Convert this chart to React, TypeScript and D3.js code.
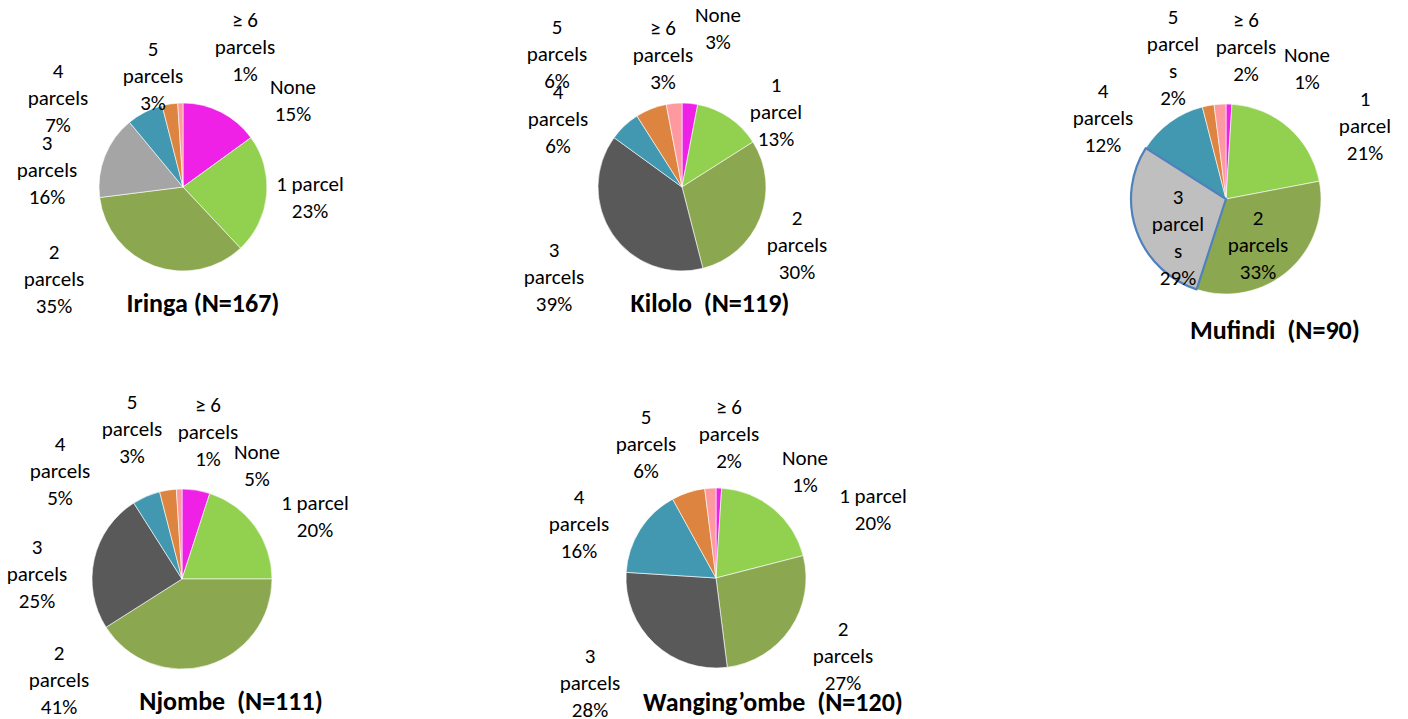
import React, { useEffect, useRef } from "react";
import * as d3 from "d3";

const categories = ["None", "1 parcel", "2 parcels", "3 parcels", "4 parcels", "5 parcels", "≥ 6 parcels"];
const iringa = [15, 23, 35, 16, 7, 3, 1];
const kilolo = [3, 13, 30, 39, 6, 6, 3];
const mufindi = [1, 21, 33, 29, 12, 2, 2];
const njombe = [5, 20, 41, 25, 5, 3, 1];
const wangingombe = [1, 20, 27, 28, 16, 6, 2];
const titles = ["Iringa (N=167)", "Kilolo  (N=119)", "Mufindi  (N=90)", "Njombe  (N=111)", "Wanging’ombe  (N=120)"];

const baseColors = ["#F021E6", "#92D050", "#8BA750", "#595959", "#4298B0", "#DD8440", "#FF99A0"];

type LabelPos = { x: number; y: number; lines: string[] };
type ChartCfg = {
  values: number[];
  title: string;
  cx: number; cy: number; r: number;
  titleX: number; titleY: number;
  threeColor: string;
  highlight?: boolean;
  labels: LabelPos[]; // in category order
};

const fmt = (v: number) => `${v}%`;

function buildLines(cat: string, v: number, style: string): string[] {
  if (style === "one") return [cat, fmt(v)];
  if (style === "split") {
    const parts = cat.split(" ");
    if (cat.startsWith("≥")) return ["≥ 6", "parcels", fmt(v)];
    return [parts[0], parts[1], fmt(v)];
  }
  if (style === "wrap") {
    const parts = cat.split(" ");
    return [parts[0], "parcel", "s", fmt(v)];
  }
  return [cat, fmt(v)];
}

const charts: ChartCfg[] = [
  {
    values: iringa, title: titles[0], cx: 183, cy: 187, r: 84, titleX: 203, titleY: 303,
    threeColor: "#A5A5A5",
    labels: [
      { x: 293, y: 87, lines: buildLines(categories[0], iringa[0], "one") },
      { x: 310, y: 184, lines: buildLines(categories[1], iringa[1], "one") },
      { x: 54, y: 252, lines: buildLines(categories[2], iringa[2], "split") },
      { x: 47, y: 143, lines: buildLines(categories[3], iringa[3], "split") },
      { x: 58, y: 71, lines: buildLines(categories[4], iringa[4], "split") },
      { x: 153, y: 49, lines: buildLines(categories[5], iringa[5], "split") },
      { x: 245, y: 20, lines: buildLines(categories[6], iringa[6], "split") },
    ],
  },
  {
    values: kilolo, title: titles[1], cx: 682, cy: 187, r: 84, titleX: 710, titleY: 303,
    threeColor: "#595959",
    labels: [
      { x: 718, y: 15, lines: buildLines(categories[0], kilolo[0], "one") },
      { x: 776, y: 85, lines: ["1", "parcel", fmt(kilolo[1])] },
      { x: 797, y: 218, lines: buildLines(categories[2], kilolo[2], "split") },
      { x: 554, y: 250, lines: buildLines(categories[3], kilolo[3], "split") },
      { x: 558, y: 92, lines: buildLines(categories[4], kilolo[4], "split") },
      { x: 557, y: 27, lines: buildLines(categories[5], kilolo[5], "split") },
      { x: 663, y: 28, lines: buildLines(categories[6], kilolo[6], "split") },
    ],
  },
  {
    values: mufindi, title: titles[2], cx: 1226, cy: 199, r: 95, titleX: 1275, titleY: 330,
    threeColor: "#BFBFBF", highlight: true,
    labels: [
      { x: 1307, y: 55, lines: buildLines(categories[0], mufindi[0], "one") },
      { x: 1365, y: 99, lines: ["1", "parcel", fmt(mufindi[1])] },
      { x: 1258, y: 218, lines: buildLines(categories[2], mufindi[2], "split") },
      { x: 1178, y: 197, lines: buildLines(categories[3], mufindi[3], "wrap") },
      { x: 1103, y: 91, lines: buildLines(categories[4], mufindi[4], "split") },
      { x: 1173, y: 17, lines: buildLines(categories[5], mufindi[5], "wrap") },
      { x: 1246, y: 20, lines: buildLines(categories[6], mufindi[6], "split") },
    ],
  },
  {
    values: njombe, title: titles[3], cx: 182, cy: 579, r: 90, titleX: 231, titleY: 701,
    threeColor: "#595959",
    labels: [
      { x: 257, y: 452, lines: buildLines(categories[0], njombe[0], "one") },
      { x: 315, y: 503, lines: buildLines(categories[1], njombe[1], "one") },
      { x: 59, y: 653, lines: buildLines(categories[2], njombe[2], "split") },
      { x: 37, y: 547, lines: buildLines(categories[3], njombe[3], "split") },
      { x: 60, y: 444, lines: buildLines(categories[4], njombe[4], "split") },
      { x: 132, y: 402, lines: buildLines(categories[5], njombe[5], "split") },
      { x: 208, y: 405, lines: buildLines(categories[6], njombe[6], "split") },
    ],
  },
  {
    values: wangingombe, title: titles[4], cx: 716, cy: 578, r: 90, titleX: 773, titleY: 702,
    threeColor: "#595959",
    labels: [
      { x: 805, y: 458, lines: buildLines(categories[0], wangingombe[0], "one") },
      { x: 873, y: 496, lines: buildLines(categories[1], wangingombe[1], "one") },
      { x: 843, y: 629, lines: buildLines(categories[2], wangingombe[2], "split") },
      { x: 590, y: 656, lines: buildLines(categories[3], wangingombe[3], "split") },
      { x: 579, y: 497, lines: buildLines(categories[4], wangingombe[4], "split") },
      { x: 646, y: 417, lines: buildLines(categories[5], wangingombe[5], "split") },
      { x: 729, y: 407, lines: buildLines(categories[6], wangingombe[6], "split") },
    ],
  },
];

const FONT = "Carlito, Calibri, Lato, 'Open Sans', sans-serif";
const LINE_H = 27;

export default function App() {
  const ref = useRef<SVGSVGElement | null>(null);

  useEffect(() => {
    const svg = d3.select(ref.current);
    svg.selectAll("*").remove();
    const pie = d3.pie<number>().sort(null).value((d) => d);

    charts.forEach((c) => {
      const g = svg.append("g").attr("transform", `translate(${c.cx},${c.cy})`);
      const arc = d3.arc<d3.PieArcDatum<number>>().innerRadius(0).outerRadius(c.r);
      const colors = baseColors.slice();
      colors[3] = c.threeColor;
      const arcs = pie(c.values);
      g.selectAll("path.slice")
        .data(arcs)
        .join("path")
        .attr("class", "slice")
        .attr("d", arc)
        .attr("fill", (_, i) => colors[i])
        .attr("stroke", "#ffffff")
        .attr("stroke-width", 0.6);
      if (c.highlight) {
        g.append("path")
          .attr("d", arc(arcs[3]) as string)
          .attr("fill", "none")
          .attr("stroke", "#4F81BD")
          .attr("stroke-width", 2.2)
          .attr("stroke-linejoin", "round");
      }
    });

    charts.forEach((c) => {
      c.labels.forEach((lab) => {
        const t = svg
          .append("text")
          .attr("text-anchor", "middle")
          .attr("font-family", FONT)
          .attr("font-size", 21)
          .attr("fill", "#000");
        lab.lines.forEach((ln, k) => {
          t.append("tspan")
            .attr("x", lab.x)
            .attr("y", lab.y + k * LINE_H)
            .attr("dy", "0.35em")
            .text(ln);
        });
      });
      svg
        .append("text")
        .attr("x", c.titleX)
        .attr("y", c.titleY)
        .attr("dy", "0.35em")
        .attr("text-anchor", "middle")
        .attr("font-family", FONT)
        .attr("font-weight", "bold")
        .attr("font-size", 26)
        .attr("fill", "#000")
        .style("white-space", "pre")
        .text(c.title);
    });
  }, []);

  return (
    <svg
      ref={ref}
      width={1408}
      height={719}
      style={{ position: "absolute", left: 0, top: 0, background: "#fff" }}
    />
  );
}
